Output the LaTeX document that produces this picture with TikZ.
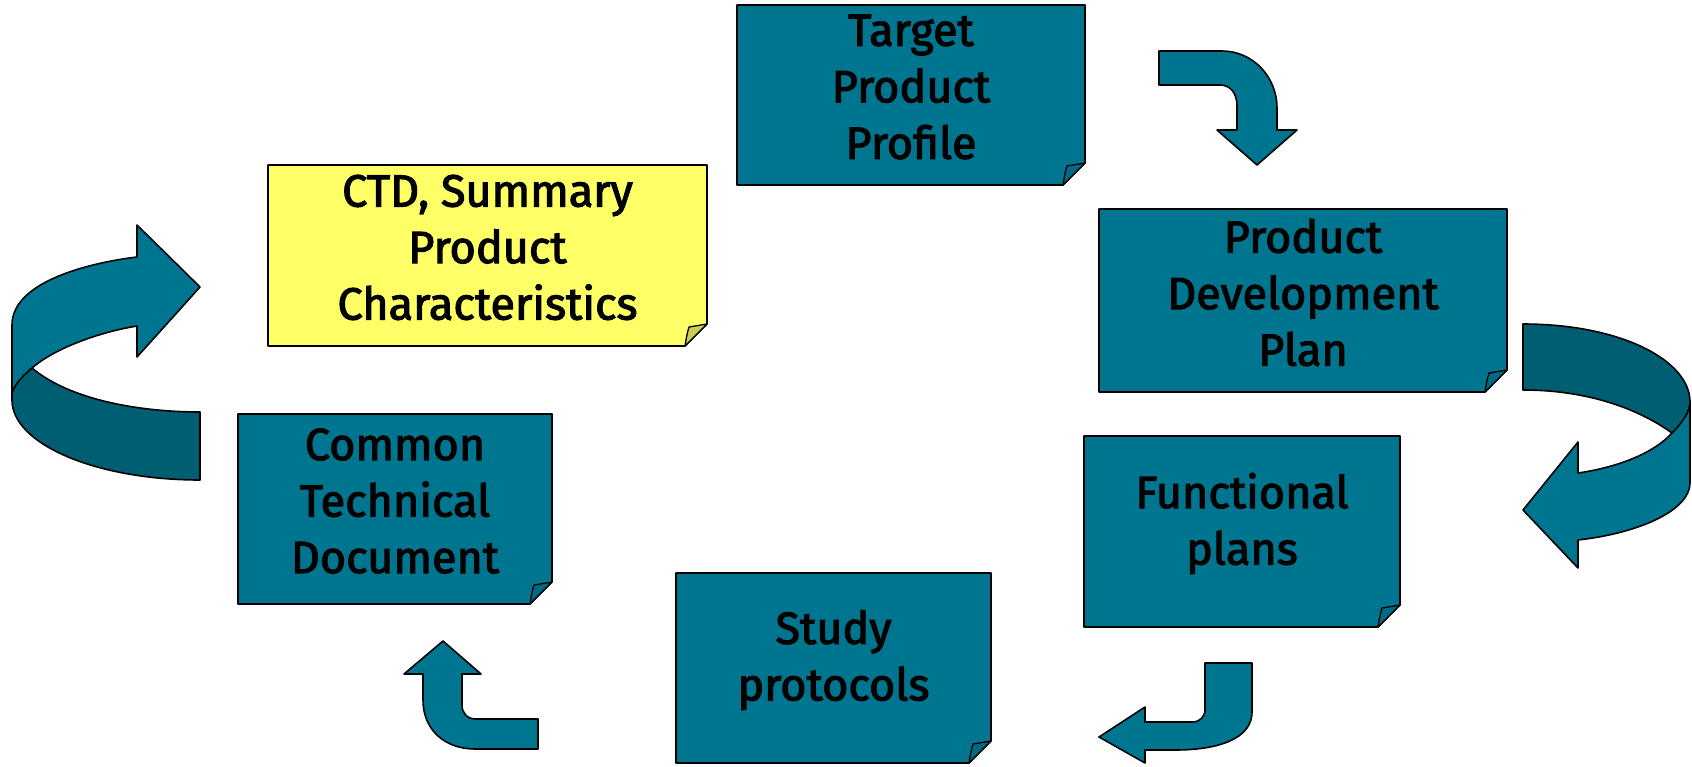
\documentclass[tikz,border=0pt]{standalone}
\usepackage{fontspec}
\setmainfont{Fira Sans}
\newfontfamily\boxfont{Fira Sans}[FakeBold=2.5]
\definecolor{tealA}{HTML}{00758F}
\definecolor{tealB}{HTML}{005E73}
\definecolor{tealF}{HTML}{006A82}
\definecolor{yelA}{HTML}{FFFF66}
\definecolor{yelF}{HTML}{CCCC55}
\tikzset{
  outl/.style={draw=black,line width=1.6pt,line join=round},
  txt/.style={align=center,inner sep=0pt,font=\boxfont\fontsize{45}{56.5}\selectfont,text=black},
}
\newcommand\notebox[8]{%
  \path[outl,fill=#6] (#2,#3) -- (#4,#3) -- (#4,#5-22) -- (#4-22,#5) -- (#2,#5) -- cycle;
  \path[outl,fill=#7,line width=1.3pt] (#4,#5-22) -- (#4-18,#5-19) .. controls (#4-20,#5-12) .. (#4-22,#5) -- cycle;
  \node[txt] (#1) at ({(#2+#4)/2},{(#3+#5)/2-8}) {#8};
}
\begin{document}
\begin{tikzpicture}[x=1pt,y=-1pt]
\useasboundingbox (0,0) rectangle (1692,766);

% boxes
\notebox{tpp}{737}{5}{1085}{185}{tealA}{tealF}{Target\\Product\\Profile}
\notebox{spc}{268}{165}{707}{346}{yelA}{yelF}{CTD, Summary\\Product\\Characteristics}
\notebox{pdp}{1099}{209}{1507}{392}{tealA}{tealF}{Product\\Development\\Plan}
\notebox{fp}{1084}{436}{1400}{627}{tealA}{tealF}{Functional\\plans}
\notebox{sp}{676}{573}{991}{763}{tealA}{tealF}{Study\\protocols}
\notebox{ctd}{238}{414}{552}{604}{tealA}{tealF}{Common\\Technical\\Document}

% arrow top right
\path[outl,fill=tealA] (1159,51) -- (1222,51) .. controls (1253,51) and (1277,77) .. (1277,108)
  -- (1277,130) -- (1297,130) -- (1257,165) -- (1217,130) -- (1237,130) -- (1237,106)
  .. controls (1237,94) and (1231,85) .. (1220,85) -- (1159,85) -- cycle;

% ribbon right: back part
\path[outl,fill=tealB] (1523,324) .. controls (1620,324) and (1690,360) .. (1690,402)
  .. controls (1690,415) and (1680,425) .. (1672,433)
  .. controls (1640,410) and (1590,390) .. (1523,390) -- cycle;
% ribbon right: front part
\path[outl,fill=tealA] (1672,433) .. controls (1682,423) and (1690,412) .. (1690,402)
  -- (1690,483) .. controls (1690,510) and (1640,533) .. (1578,540)
  -- (1578,568) -- (1523,510) -- (1578,442) -- (1578,473)
  .. controls (1620,467) and (1655,452) .. (1672,433) -- cycle;

% ribbon left: back part
\path[outl,fill=tealB] (32,368) .. controls (70,400) and (140,412) .. (200,412)
  -- (200,480) .. controls (96,480) and (12,444) .. (12,400)
  -- (12,395) .. controls (12,388) and (20,378) .. (32,368) -- cycle;
% ribbon left: front part
\path[outl,fill=tealA] (137,225) -- (200,287) -- (137,357) -- (137,326)
  .. controls (100,332) and (55,348) .. (32,368)
  .. controls (20,378) and (12,388) .. (12,395)
  -- (12,325) .. controls (12,280) and (95,262) .. (137,257) -- cycle;

% arrow bottom right
\path[outl,fill=tealA] (1205,663) -- (1252,663) -- (1252,712)
  .. controls (1252,738) and (1220,750) .. (1175,750) -- (1145,750)
  -- (1145,763) -- (1099,737) -- (1145,707) -- (1145,722) -- (1192,722)
  .. controls (1200,722) and (1205,717) .. (1205,709) -- cycle;

% arrow bottom left
\path[outl,fill=tealA] (443,641) -- (481,674) -- (462,674) -- (462,705)
  .. controls (462,713) and (467,719) .. (476,719) -- (538,719) -- (538,749)
  -- (475,749) .. controls (445,749) and (423,730) .. (423,700) -- (423,674)
  -- (404,674) -- cycle;
\end{tikzpicture}
\end{document}
